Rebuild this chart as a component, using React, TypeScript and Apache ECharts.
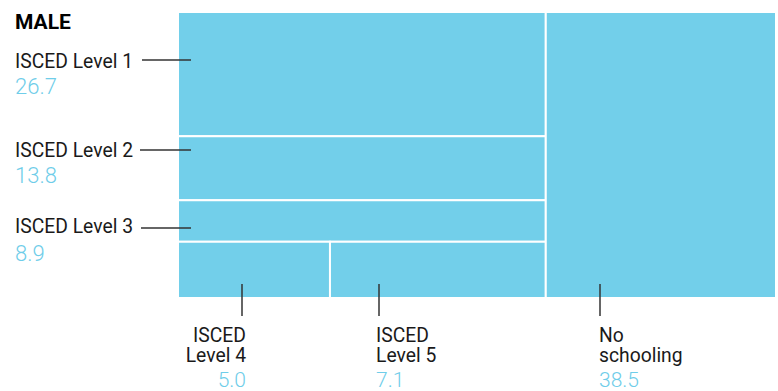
import React, { useEffect, useRef } from "react";
import * as echarts from "echarts";

const title = "MALE";
const categories = ["ISCED Level 1", "ISCED Level 2", "ISCED Level 3", "ISCED Level 4", "ISCED Level 5", "No schooling"];
const values = [26.7, 13.8, 8.9, 5.0, 7.1, 38.5];

const FILL = "#72CFEA";
const NUM = "#6FCDE9";
const INK = "#1a1a1a";
const LINE = "#333333";
const FONT = "Roboto, 'Noto Sans', sans-serif";
const CONDENSE = 0.92;

// label placement (pixels)
const leftLabelLayout = [
  { nameY: 61, valueY: 86.5, lineY: 60, lineX0: 142 },
  { nameY: 150, valueY: 175.5, lineY: 150, lineX0: 140 },
  { nameY: 226, valueY: 253.5, lineY: 228, lineX0: 141 },
];
const bottomLabelLayout = [
  { x: 246, align: "right", lineX: 242 },
  { x: 376, align: "left", lineX: 379 },
  { x: 599, align: "left", lineX: 600 },
];

function buildRects() {
  const [l1, l2, l3, l4, l5] = values;
  const total = values.reduce((a, b) => a + b, 0);
  const leftSum = l1 + l2 + l3 + l4 + l5;
  const leftW = (leftSum / total) * 100;
  const h1 = (l1 / leftSum) * 100;
  const h2 = (l2 / leftSum) * 100;
  const h3 = (l3 / leftSum) * 100;
  const w4 = (l4 / (l4 + l5)) * leftW;
  const rects = [
    [0, leftW, 0, h1],
    [0, leftW, h1, h1 + h2],
    [0, leftW, h1 + h2, h1 + h2 + h3],
    [0, w4, h1 + h2 + h3, 100],
    [w4, leftW, h1 + h2 + h3, 100],
    [leftW, 100, 0, 100],
  ];
  return rects.map((r, i) => ({ name: categories[i], value: [...r, values[i]] }));
}

export default function App() {
  const ref = useRef<HTMLDivElement>(null);
  useEffect(() => {
    document.body.style.margin = "0";
    if (!ref.current) return;
    const chart = echarts.init(ref.current, undefined, { renderer: "svg" });

    const graphics: any[] = [];
    graphics.push({
      type: "text",
      x: 15,
      y: 21.5,
      style: { text: title, font: `bold 21px ${FONT}`, fill: "#000", textAlign: "left", textVerticalAlign: "middle" },
    });
    leftLabelLayout.forEach((l, i) => {
      graphics.push({
        type: "text",
        x: 15,
        y: l.nameY,
        scaleX: CONDENSE,
        style: { text: categories[i], font: `21px ${FONT}`, fill: INK, textAlign: "left", textVerticalAlign: "middle" },
      });
      graphics.push({
        type: "text",
        x: 15,
        y: l.valueY,
        style: { text: values[i].toFixed(1), font: `300 22px ${FONT}`, fill: NUM, textAlign: "left", textVerticalAlign: "middle" },
      });
      graphics.push({
        type: "line",
        shape: { x1: l.lineX0, y1: l.lineY, x2: 191, y2: l.lineY },
        style: { stroke: LINE, lineWidth: 1.5 },
        z: 10,
      });
    });
    bottomLabelLayout.forEach((l, k) => {
      const i = k + 3;
      const name = categories[i];
      const sp = name.indexOf(" ");
      const text = name.slice(0, sp) + "\n" + name.slice(sp + 1);
      graphics.push({
        type: "text",
        x: l.x,
        y: 344.5,
        scaleX: CONDENSE,
        style: { text, font: `21px ${FONT}`, lineHeight: 20, fill: INK, textAlign: l.align, textVerticalAlign: "middle" },
      });
      graphics.push({
        type: "text",
        x: l.x,
        y: 380,
        style: { text: values[i].toFixed(1), font: `300 21px ${FONT}`, fill: NUM, textAlign: l.align, textVerticalAlign: "middle" },
      });
      graphics.push({
        type: "line",
        shape: { x1: l.lineX, y1: 284, x2: l.lineX, y2: 316 },
        style: { stroke: LINE, lineWidth: 1.5 },
        z: 10,
      });
    });

    chart.setOption({
      animation: false,
      grid: { left: 178, right: 2, top: 12, bottom: 93 },
      xAxis: { type: "value", min: 0, max: 100, show: false },
      yAxis: { type: "value", min: 0, max: 100, inverse: true, show: false },
      series: [
        {
          type: "custom",
          data: buildRects(),
          renderItem: (params: any, api: any) => {
            const p0 = api.coord([api.value(0), api.value(2)]);
            const p1 = api.coord([api.value(1), api.value(3)]);
            return {
              type: "rect",
              shape: {
                x: Math.min(p0[0], p1[0]),
                y: Math.min(p0[1], p1[1]),
                width: Math.abs(p1[0] - p0[0]),
                height: Math.abs(p1[1] - p0[1]),
              },
              style: { fill: FILL, stroke: "#ffffff", lineWidth: 2 },
            };
          },
          encode: { x: [0, 1], y: [2, 3] },
          silent: true,
        },
      ],
      graphic: graphics,
    });
    return () => chart.dispose();
  }, []);
  return <div ref={ref} style={{ width: 778, height: 391 }} />;
}
